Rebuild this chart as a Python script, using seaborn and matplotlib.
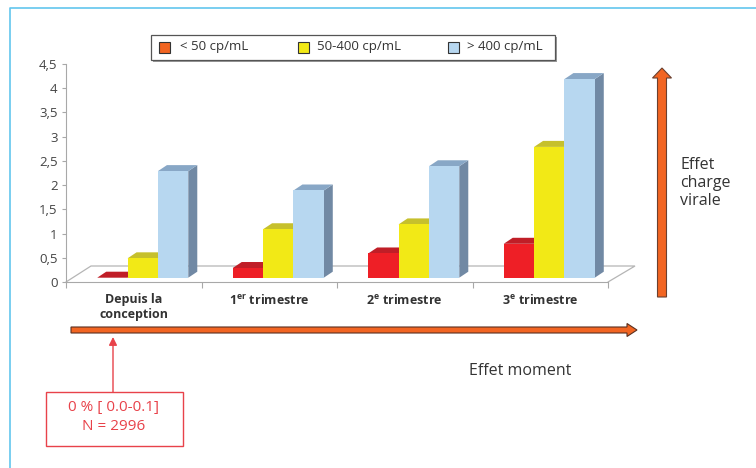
import numpy as np
import pandas as pd
import matplotlib
matplotlib.use("Agg")
import matplotlib.pyplot as plt
import matplotlib.transforms as mtransforms
from matplotlib.patches import Polygon, Rectangle, FancyArrow
import seaborn as sns

# ---- data -------------------------------------------------------------
moments = ["Depuis la conception", "1er trimestre", "2e trimestre", "3e trimestre"]
moment_labels = ["Depuis la\nconception",
                 r"1$^{\mathbf{er}}$ trimestre",
                 r"2$^{\mathbf{e}}$ trimestre",
                 r"3$^{\mathbf{e}}$ trimestre"]
charges = ["< 50 cp/mL", "50-400 cp/mL", "> 400 cp/mL"]
lt50 = [0.0, 0.2, 0.5, 0.7]
mid50_400 = [0.4, 1.0, 1.1, 2.7]
gt400 = [2.2, 1.8, 2.3, 4.1]
y_ticks = [0, 0.5, 1, 1.5, 2, 2.5, 3, 3.5, 4, 4.5]
y_tick_labels = ["0", "0,5", "1", "1,5", "2", "2,5", "3", "3,5", "4", "4,5"]

df = pd.DataFrame({
    "moment": moments * 3,
    "charge": [c for c in charges for _ in moments],
    "valeur": lt50 + mid50_400 + gt400,
})

# ---- style ------------------------------------------------------------
sns.set_theme(style="white")
plt.rcParams["font.family"] = ["Open Sans", "DejaVu Sans"]
plt.rcParams["mathtext.fontset"] = "custom"
plt.rcParams["mathtext.rm"] = "Open Sans"
plt.rcParams["mathtext.bf"] = "Open Sans:bold"
plt.rcParams["mathtext.it"] = "Open Sans:italic"

front_c = ["#ee1f26", "#f2e916", "#b7d7f0"]
top_c = ["#c01e27", "#c6c02c", "#88a7c6"]
side_c = ["#a01820", "#aca420", "#7189a4"]
legend_c = ["#f26522", "#f2e916", "#b7d7f0"]
orange = "#f26522"
red_note = "#e8424a"
text_c = "#333333"

W, H = 756, 468
fig = plt.figure(figsize=(W / 100, H / 100), dpi=100)

# pixel frame of the value axes
AX_L, AX_R, AX_T, AX_B = 66, 608, 64, 282
ax = fig.add_axes([AX_L / W, 1 - AX_B / H, (AX_R - AX_L) / W, (AX_B - AX_T) / H], zorder=2)
ax.patch.set_alpha(0)

# full-figure overlay in pixel units for frame, floor, arrows and notes
ov = fig.add_axes([0, 0, 1, 1], zorder=1)
ov.set_xlim(0, W)
ov.set_ylim(H, 0)
ov.axis("off")

sns.barplot(data=df, x="moment", y="valeur", hue="charge", order=moments,
            hue_order=charges, palette=front_c, width=0.672, gap=0,
            saturation=1, legend=False, linewidth=0, ax=ax)
ax.set_xlim(-0.5, 3.5)
ax.set_ylim(0, 4.5)

# oblique 3-D look: bars sit a little behind the front edge of the floor
px_x = (AX_R - AX_L) / 4.0
px_y = (AX_B - AX_T) / 4.5
shift = mtransforms.ScaledTranslation(9 / 100, 4.3 / 100, fig.dpi_scale_trans)
DX, DY = 9 / px_x, 6 / px_y

for s, cont in enumerate(ax.containers):
    for c, bar in enumerate(cont):
        x0, w, h = bar.get_x(), bar.get_width(), bar.get_height()
        z = 3 + c * 12 + s * 3
        tr = ax.transData + shift
        bar.set_transform(tr)
        bar.set_zorder(z + 2)
        bar.set_clip_on(False)
        side = Polygon([(x0 + w, 0), (x0 + w + DX, DY), (x0 + w + DX, h + DY), (x0 + w, h)],
                       closed=True, fc=side_c[s], ec="none", transform=tr,
                       zorder=z, clip_on=False)
        top = Polygon([(x0, h), (x0 + w, h), (x0 + w + DX, h + DY), (x0 + DX, h + DY)],
                      closed=True, fc=top_c[s], ec="none", transform=tr,
                      zorder=z + 1, clip_on=False)
        ax.add_patch(side)
        ax.add_patch(top)

# axes styling
for sp in ["top", "right"]:
    ax.spines[sp].set_visible(False)
for sp in ["left", "bottom"]:
    ax.spines[sp].set_color("#a8a8a8")
    ax.spines[sp].set_linewidth(0.8)
ax.set_xlabel("")
ax.set_ylabel("")
ax.set_yticks(y_ticks)
ax.set_yticklabels(y_tick_labels)
ax.tick_params(axis="y", length=3, width=0.8, color="#a8a8a8", labelsize=9.5,
               labelcolor="#444444", pad=3, left=True)
ax.set_xticks(range(len(moments)))
ax.set_xticklabels(moment_labels, fontweight="bold", fontsize=9, color=text_c,
                   linespacing=1.15)
ax.tick_params(axis="x", which="major", length=0, pad=8, bottom=True)
ax.set_xticks([-0.5, 0.5, 1.5, 2.5, 3.5], minor=True)
ax.tick_params(axis="x", which="minor", length=4, width=0.8, color="#a8a8a8",
               direction="out", bottom=True)

# floor outline
floor_c = "#b5b5b5"
ov.plot([AX_L, AX_L + 25, AX_R + 27, AX_R], [AX_B, 266, 266, AX_B],
        color=floor_c, lw=0.9, solid_joinstyle="miter")

# outer frame
ov.plot([10, 10, W], [H, 8, 8], color="#62c6ee", lw=1.2)

# legend box
ov.add_patch(Rectangle((153, 37), 404, 25, fc="#9a9a9a", ec="none"))
ov.add_patch(Rectangle((151, 35), 404, 25, fc="white", ec="#555555", lw=0.9))
for col, lab, xs, xt in zip(legend_c, charges, [159, 298, 448], [180, 317, 467]):
    ov.add_patch(Rectangle((xs, 41.5), 11, 11, fc=col, ec="#333333", lw=0.8))
    ov.text(xt, 46.5, lab, fontsize=9.5, color=text_c, va="center", ha="left")

# vertical arrow: viral load effect
ov.add_patch(FancyArrow(662, 297, 0, -229, width=9, head_width=19, head_length=10,
                        length_includes_head=True, fc=orange, ec="#6b4030", lw=0.8))
ov.text(680, 183, "Effet\ncharge\nvirale", fontsize=11.5, color=text_c,
        va="center", ha="left", linespacing=1.15)

# horizontal arrow: timing effect
ov.add_patch(FancyArrow(71, 330, 566, 0, width=6, head_width=13, head_length=10,
                        length_includes_head=True, fc=orange, ec="#5a3020", lw=0.8))
ov.text(520, 371, "Effet moment", fontsize=11.5, color=text_c, va="center", ha="center")

# note for the preconception group
ov.annotate("", xy=(113, 337), xytext=(113, 392),
            arrowprops=dict(arrowstyle="-|>", color=red_note, lw=1.0,
                            mutation_scale=12, shrinkA=0, shrinkB=0))
ov.add_patch(Rectangle((46, 392), 137, 54, fc="white", ec=red_note, lw=1.0))
ov.text(114, 408, "0 % [ 0.0-0.1]", fontsize=11, color=red_note, ha="center", va="center")
ov.text(114, 427, "N = 2996", fontsize=11, color=red_note, ha="center", va="center")

fig.savefig("out.png", dpi=100)
